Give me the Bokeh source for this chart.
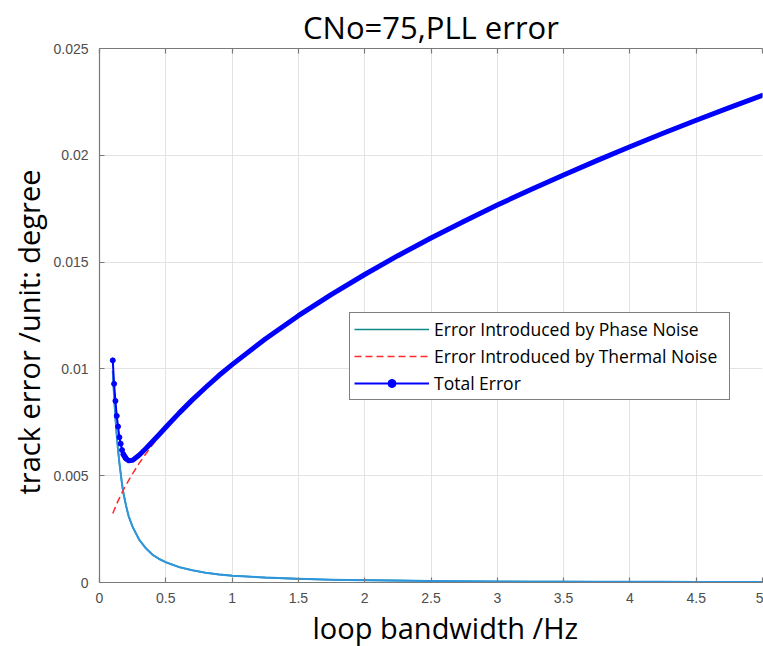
from bokeh.plotting import figure
from bokeh.models import Range1d, LinearAxis, FixedTicker, Legend, LegendItem, ColumnDataSource, Title
from bokeh.embed import file_html
from bokeh.resources import INLINE

# ---- data ----
bandwidth = [0.10, 0.11, 0.12, 0.13, 0.14, 0.15, 0.16, 0.17, 0.18, 0.19, 0.20,
             0.22, 0.25, 0.30, 0.35, 0.40, 0.45, 0.50, 0.60, 0.70, 0.80, 0.90, 1.00,
             1.25, 1.50, 1.75, 2.00, 2.25, 2.50, 2.75, 3.00, 3.25, 3.50, 3.75,
             4.00, 4.25, 4.50, 4.75, 5.00]
phase_err = [0.0099, 0.0087, 0.0077, 0.0069, 0.0062, 0.0056, 0.0051, 0.0046, 0.0042, 0.0039, 0.0036,
             0.0031, 0.0026, 0.0020, 0.0016, 0.0013, 0.0011, 0.00095, 0.00072, 0.00057, 0.00046, 0.00038, 0.00032,
             0.00023, 0.00017, 0.00013, 0.00011, 0.00009, 0.00007, 0.00006, 0.00005, 0.00004, 0.00004, 0.00003,
             0.00003, 0.00003, 0.00002, 0.00002, 0.00002]
thermal_err = [0.00323, 0.00338, 0.00353, 0.00368, 0.00382, 0.00395, 0.00408, 0.00421, 0.00433, 0.00445, 0.00456,
               0.00478, 0.0051, 0.00559, 0.00603, 0.00645, 0.00684, 0.00721, 0.0079, 0.00853, 0.00912, 0.00968, 0.0102,
               0.0114, 0.01249, 0.01349, 0.01442, 0.0153, 0.01613, 0.01691, 0.01767, 0.01839, 0.01908, 0.01975,
               0.0204, 0.02103, 0.02164, 0.02223, 0.02281]
total_err = [0.0104, 0.0093, 0.0085, 0.0078, 0.0073, 0.0068, 0.0065, 0.0062, 0.0060, 0.0059, 0.0058,
             0.0057, 0.00572, 0.00597, 0.00627, 0.0066, 0.00693, 0.00727, 0.00793, 0.00855, 0.00913, 0.00969, 0.0102,
             0.0114, 0.01249, 0.01349, 0.01442, 0.0153, 0.01613, 0.01691, 0.01767, 0.01839, 0.01908, 0.01975,
             0.0204, 0.02103, 0.02164, 0.02223, 0.02281]

x_ticks = [0, 0.5, 1, 1.5, 2, 2.5, 3, 3.5, 4, 4.5, 5]
x_tick_labels = ["0", "0.5", "1", "1.5", "2", "2.5", "3", "3.5", "4", "4.5", "5"]
y_ticks = [0, 0.005, 0.01, 0.015, 0.02, 0.025]
y_tick_labels = ["0", "0.005", "0.01", "0.015", "0.02", "0.025"]

title_text = "CNo=75,PLL error"
x_label = "loop bandwidth /Hz"
y_label = "track error /unit: degree"
legend_labels = ["Error Introduced by Phase Noise",
                 "Error Introduced by Thermal Noise",
                 "Total Error"]

# ---- figure ----
LABEL_FONT = "Open Sans"
TICK_FONT = "Liberation Sans"
AXIS_COLOR = "#7a7a7a"

p = figure(width=763, height=646, output_backend="svg", toolbar_location=None,
           x_range=Range1d(0, 5), y_range=Range1d(0, 0.025),
           min_border_left=99, min_border_right=1, min_border_top=48, min_border_bottom=63,
           background_fill_color="white", border_fill_color="white",
           outline_line_color=None)

p.title.text = title_text
p.title.align = "center"
p.title.text_font = LABEL_FONT
p.title.text_font_size = "31px"
p.title.text_font_style = "normal"
p.title.text_color = "black"
p.title.standoff = 2

def style_axis(ax, ticks, labels, show_labels=True):
    ax.ticker = FixedTicker(ticks=ticks)
    ax.major_label_overrides = {t: l for t, l in zip(ticks, labels)}
    ax.major_tick_in = 5
    ax.major_tick_out = 0
    ax.minor_tick_line_color = None
    ax.axis_line_color = AXIS_COLOR
    ax.axis_line_width = 1.2
    ax.major_tick_line_color = AXIS_COLOR
    ax.major_tick_line_width = 1.2
    ax.major_label_text_font = TICK_FONT
    ax.major_label_text_font_size = "14px"
    ax.major_label_text_color = "#4d4d4d" if show_labels else None

style_axis(p.xaxis[0], x_ticks, x_tick_labels)
p.xaxis[0].major_label_standoff = 10
style_axis(p.yaxis[0], y_ticks, y_tick_labels)
p.yaxis[0].major_label_standoff = 11

top_axis = LinearAxis()
style_axis(top_axis, x_ticks, x_tick_labels, show_labels=False)
top_axis.major_label_standoff = 0
p.add_layout(top_axis, "above")

# axis titles as side titles so they can be offset like the reference
p.add_layout(Title(text=x_label, align="left", offset=213, standoff=0,
                   text_font=LABEL_FONT, text_font_size="29px",
                   text_font_style="normal", text_color="black"), "below")
p.add_layout(Title(text=y_label, align="left", offset=88, standoff=5,
                   text_font=LABEL_FONT, text_font_size="29px",
                   text_font_style="normal", text_color="black"), "left")

p.xgrid.ticker = FixedTicker(ticks=x_ticks)
p.ygrid.ticker = FixedTicker(ticks=y_ticks)
p.grid.grid_line_color = "#e3e3e3"
p.grid.grid_line_width = 1

src = ColumnDataSource(dict(x=bandwidth, ph=phase_err, th=thermal_err, tot=total_err))
n_dots = sum(1 for b in bandwidth if b <= 0.2)
dots_src = ColumnDataSource(dict(x=bandwidth[:n_dots], tot=total_err[:n_dots]))
thick_src = ColumnDataSource(dict(x=bandwidth[n_dots - 1:], tot=total_err[n_dots - 1:]))

# teal renderer (shown in the legend), covered by the lighter blue curve drawn on top
phase_teal = p.line("x", "ph", source=src, line_color="#0f8b8b", line_width=1.6)
p.line("x", "ph", source=src, line_color="#2f95dc", line_width=2.0, line_join="round")
thermal_r = p.line("x", "th", source=src, line_color="#ff2a2a", line_width=1.5, line_dash="7 4")
total_thin = p.line("x", "tot", source=src, line_color="#0000ff", line_width=2, line_join="round")
p.line("x", "tot", source=thick_src, line_color="#0000ff", line_width=5,
       line_join="round", line_cap="round")
total_dots = p.scatter("x", "tot", source=dots_src, size=5, marker="circle",
                       fill_color="#0000ff", line_color="#0000ff")

legend = Legend(items=[
    LegendItem(label=legend_labels[0], renderers=[phase_teal]),
    LegendItem(label=legend_labels[1], renderers=[thermal_r]),
    LegendItem(label=legend_labels[2], renderers=[total_thin, total_dots]),
], location=(250, 182))
legend.label_text_font = LABEL_FONT
legend.label_text_font_size = "17.5px"
legend.label_text_color = "black"
legend.glyph_width = 75
legend.glyph_height = 20
legend.label_height = 20
legend.label_width = 291
legend.label_standoff = 5
legend.spacing = 3
legend.padding = 4
legend.margin = 0
legend.border_line_color = "black"
legend.border_line_width = 1
legend.background_fill_color = "white"
legend.background_fill_alpha = 1
p.add_layout(legend)

open("out.html", "w").write(file_html(p, INLINE))
